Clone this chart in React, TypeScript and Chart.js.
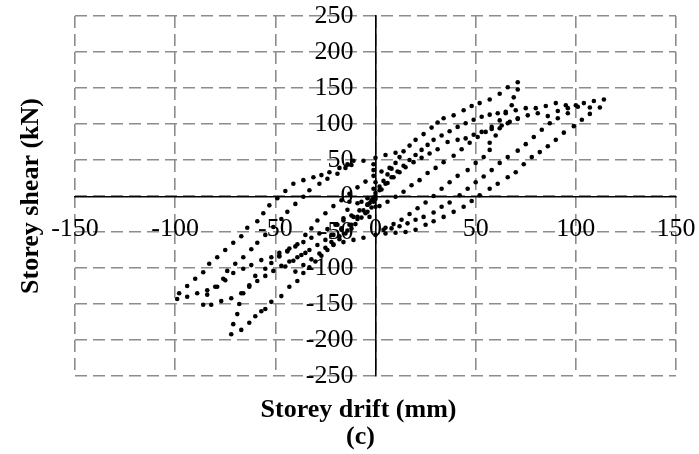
import React, { useEffect, useRef } from 'react';
import { Chart, registerables } from 'chart.js';

Chart.register(...registerables);

const FONT = "'Liberation Serif', 'Times New Roman', serif";
const X_TITLE = 'Storey drift (mm)';
const Y_TITLE = 'Storey shear (kN)';
const CAPTION = '(c)';

const xTickValues = [-150, -100, -50, 0, 50, 100, 150];
const yTickValues = [-250, -200, -150, -100, -50, 0, 50, 100, 150, 200, 250];

type Pt = [number, number];

// Hysteresis record: storey drift (mm) vs storey shear (kN), sampled branch by branch.

// Negative-side reloading branches rising from the negative peaks
const leftOuterReload: Pt[] = [
  [-99, -143], [-98, -135], [-94, -125], [-90, -115], [-86, -106], [-83, -94], [-79, -85],
  [-75, -75], [-71, -65], [-67, -56], [-64, -44], [-59, -35], [-56, -24], [-53, -13],
  [-49, -3], [-45, 7], [-41, 17], [-36, 22], [-31, 26], [-27, 29], [-23, 33], [-18, 39],
  [-14, 44], [-11, 49], [-6, 49], [0, 53], [5, 57], [10, 60],
];
const leftSecondReload: Pt[] = [
  [-94, -140], [-89, -135], [-84, -131], [-80, -126], [-76, -115], [-74, -104], [-70, -94],
  [-66, -85], [-62, -74], [-59, -65], [-55, -54], [-51, -43], [-47, -32], [-44, -22],
  [-40, -11], [-36, -1], [-33, 8], [-28, 17], [-24, 24], [-19, 31], [-15, 39], [-12, 43],
];
const leftLowerRow: Pt[] = [
  [-86, -151], [-82, -151], [-77, -146], [-72, -142], [-66, -135], [-63, -124], [-60, -111],
  [-55, -101], [-52, -93], [-48, -84], [-44, -77],
];
const leftMidRow: Pt[] = [
  [-84, -137], [-79, -126], [-75, -117], [-71, -107], [-66, -101], [-62, -96], [-57, -89],
  [-52, -85], [-48, -79], [-43, -73], [-39, -67],
];
const steepOuter: Pt[] = [
  [-72, -192], [-67, -186], [-63, -176], [-60, -167], [-57, -160], [-55, -157], [-52, -147],
  [-47, -139], [-43, -126], [-39, -118], [-36, -107], [-33, -99], [-30, -91], [-27, -83],
  [-24, -75], [-21, -67], [-18, -60], [-15, -52], [-12, -45],
];
const steepInner: Pt[] = [
  [-71, -178], [-69, -164], [-68, -150], [-67, -135], [-63, -126], [-59, -118], [-55, -111],
  [-51, -104], [-47, -97], [-43, -91], [-39, -85], [-35, -79],
];
const midBandA: Pt[] = [
  [-48, -83], [-44, -76], [-40, -70], [-36, -64], [-32, -58], [-28, -52], [-24, -46],
  [-20, -40], [-16, -34], [-12, -27], [-8, -20], [-4, -12], [0, -4],
];
const midBandB: Pt[] = [
  [-45, -98], [-41, -90], [-37, -82], [-33, -75], [-29, -68], [-25, -61], [-21, -54],
  [-17, -47], [-13, -40], [-9, -32], [-5, -24], [-2, -16],
];
const midBandC: Pt[] = [
  [-40, -105], [-36, -96], [-32, -88], [-28, -80], [-25, -72], [-22, -64], [-18, -56],
  [-14, -48], [-10, -39], [-7, -30], [-4, -22],
];
const smallReload: Pt[] = [
  [-35, -54], [-32, -45], [-29, -34], [-25, -24], [-21, -14], [-17, -6], [-13, 3],
  [-9, 12], [-5, 20], [-1, 28], [3, 34], [7, 39],
];
const nearOrigin: Pt[] = [
  [-1, 44], [-1, 36], [0, 19], [-1, 10], [-4, -3], [-7, -8], [-1, -8], [0, -15],
  [-13, -8], [-9, -10], [-14, -19], [-11, -29], [-16, -31], [-19, -40], [-17, -45],
  [-22, -54], [-12, -40], [-9, -29], [-3, -29],
];
const negUnloadTail: Pt[] = [
  [-6, -58], [-11, -61], [-16, -64], [-21, -68],
];

// Positive-side loading branches
const envelopeTo70: Pt[] = [
  [-2, -6], [0, 4], [2, 13], [4, 21], [6, 30], [8, 38], [10, 46], [12, 54], [14, 62],
  [17, 70], [20, 78], [24, 86], [28, 95], [31, 102], [34, 108], [39, 112], [44, 119],
  [48, 125], [52, 129], [57, 134], [62, 142], [66, 151], [71, 158],
];
const reloadTo115: Pt[] = [
  [-4, -12], [-1, -2], [2, 8], [5, 17], [8, 26], [11, 34], [14, 42], [17, 50], [20, 57],
  [23, 64], [26, 71], [29, 78], [33, 84], [37, 90], [41, 96], [45, 101], [49, 106],
  [53, 110], [57, 113], [61, 115], [65, 117], [70, 119], [75, 122], [80, 122], [85, 125],
  [90, 129], [95, 126], [100, 126], [104, 129], [109, 132], [114, 134],
];
const reloadTo100: Pt[] = [
  [-6, -20], [-3, -10], [0, 0], [3, 9], [6, 18], [9, 26], [12, 33], [15, 40], [19, 47],
  [23, 53], [27, 59], [31, 65], [36, 75], [41, 78], [45, 80], [49, 85], [53, 89],
  [58, 93], [63, 98], [67, 103], [71, 107], [76, 112], [81, 115], [86, 111], [91, 118],
  [96, 122], [101, 124], [107, 123], [112, 123],
];

// Positive-side unloading branches
const unloadFrom115: Pt[] = [
  [107, 114], [103, 106], [99, 97], [94, 88], [90, 78], [86, 69], [82, 61], [78, 54],
  [74, 44], [70, 33], [66, 26], [61, 17], [57, 10], [52, 1], [48, -7], [44, -15],
  [39, -22], [34, -29], [29, -35], [25, -40], [20, -47], [15, -50], [10, -51], [5, -52],
  [0, -54],
];
const unloadFrom100: Pt[] = [
  [96, 115], [91, 108], [87, 101], [83, 92], [79, 82], [75, 72], [71, 63], [66, 54],
  [62, 46], [58, 36], [54, 27], [50, 19], [46, 10], [42, 1], [37, -9], [33, -15],
  [29, -23], [24, -29], [20, -33], [16, -38], [12, -42], [8, -45], [4, -47],
];
const unloadFrom70: Pt[] = [
  [71, 148], [69, 137], [68, 126], [65, 115], [62, 105], [58, 96], [55, 89], [51, 82],
  [47, 74], [43, 65], [39, 56], [34, 47], [30, 39], [26, 32], [22, 22], [18, 15],
  [14, 6], [10, -1], [6, -8], [2, -14],
];
const unloadInner: Pt[] = [
  [71, 108], [66, 101], [62, 94], [60, 84], [57, 74], [57, 64], [54, 54], [50, 46],
  [46, 36], [41, 28], [37, 19], [33, 10], [29, 0], [25, -9], [21, -17], [17, -25],
  [13, -33], [9, -39], [5, -44],
];

const branches: Pt[][] = [
  leftOuterReload, leftSecondReload, leftLowerRow, leftMidRow, steepOuter, steepInner,
  midBandA, midBandB, midBandC, smallReload, nearOrigin, negUnloadTail,
  envelopeTo70, reloadTo115, reloadTo100,
  unloadFrom115, unloadFrom100, unloadFrom70, unloadInner,
];

const axisTitles = {
  id: 'axisTitles',
  afterDraw(chart: any) {
    const { ctx, chartArea } = chart;
    const midX = (chartArea.left + chartArea.right) / 2;
    const midY = (chartArea.top + chartArea.bottom) / 2;
    ctx.save();
    ctx.fillStyle = '#000';
    ctx.font = `bold 26px ${FONT}`;
    ctx.textAlign = 'center';
    ctx.textBaseline = 'middle';
    ctx.fillText(X_TITLE, midX - 17, chartArea.bottom + 34);
    ctx.fillText(CAPTION, midX - 15, chartArea.bottom + 61);
    ctx.translate(31, midY);
    ctx.rotate(-Math.PI / 2);
    ctx.fillText(Y_TITLE, 0, 0);
    ctx.restore();
  },
};

export default function App() {
  const canvasRef = useRef<HTMLCanvasElement>(null);

  useEffect(() => {
    const canvas = canvasRef.current;
    if (!canvas) return;
    const points = branches.flat().map(([x, y]) => ({ x, y }));
    const gridColor = '#8c8c8c';
    const tickFont = { family: FONT, size: 26 };

    const chart = new Chart(canvas, {
      type: 'scatter',
      data: {
        datasets: [
          {
            data: points,
            pointRadius: 2.3,
            pointBackgroundColor: '#000',
            pointBorderWidth: 0,
            showLine: false,
          },
        ],
      },
      options: {
        responsive: false,
        animation: false,
        layout: { padding: { left: 75, right: 23, top: 16, bottom: 78 } },
        plugins: {
          legend: { display: false },
          tooltip: { enabled: false },
        },
        scales: {
          x: {
            type: 'linear',
            position: 'center',
            min: xTickValues[0],
            max: xTickValues[xTickValues.length - 1],
            afterBuildTicks: (scale: any) => {
              scale.ticks = xTickValues.map((v) => ({ value: v }));
            },
            grid: { color: gridColor, lineWidth: 1.6, drawTicks: true, tickLength: 18, tickWidth: 0 },
            border: { display: true, color: '#000', width: 1.6, dash: [12, 6] },
            ticks: { font: tickFont, color: '#000', padding: 0, maxRotation: 0, autoSkip: false },
          },
          y: {
            type: 'linear',
            position: 'center',
            min: yTickValues[0],
            max: yTickValues[yTickValues.length - 1],
            afterBuildTicks: (scale: any) => {
              scale.ticks = yTickValues.map((v) => ({ value: v }));
            },
            grid: { color: gridColor, lineWidth: 1.6, drawTicks: true, tickLength: 22, tickWidth: 0 },
            border: { display: true, color: '#000', width: 1.6, dash: [12, 6] },
            ticks: { font: tickFont, color: '#000', padding: 0, autoSkip: false },
          },
        },
      },
      plugins: [axisTitles],
    });

    return () => chart.destroy();
  }, []);

  return (
    <div style={{ position: 'absolute', left: 0, top: 0, width: 699, height: 454, background: '#fff' }}>
      <canvas ref={canvasRef} width={699} height={454} style={{ display: 'block' }} />
    </div>
  );
}
